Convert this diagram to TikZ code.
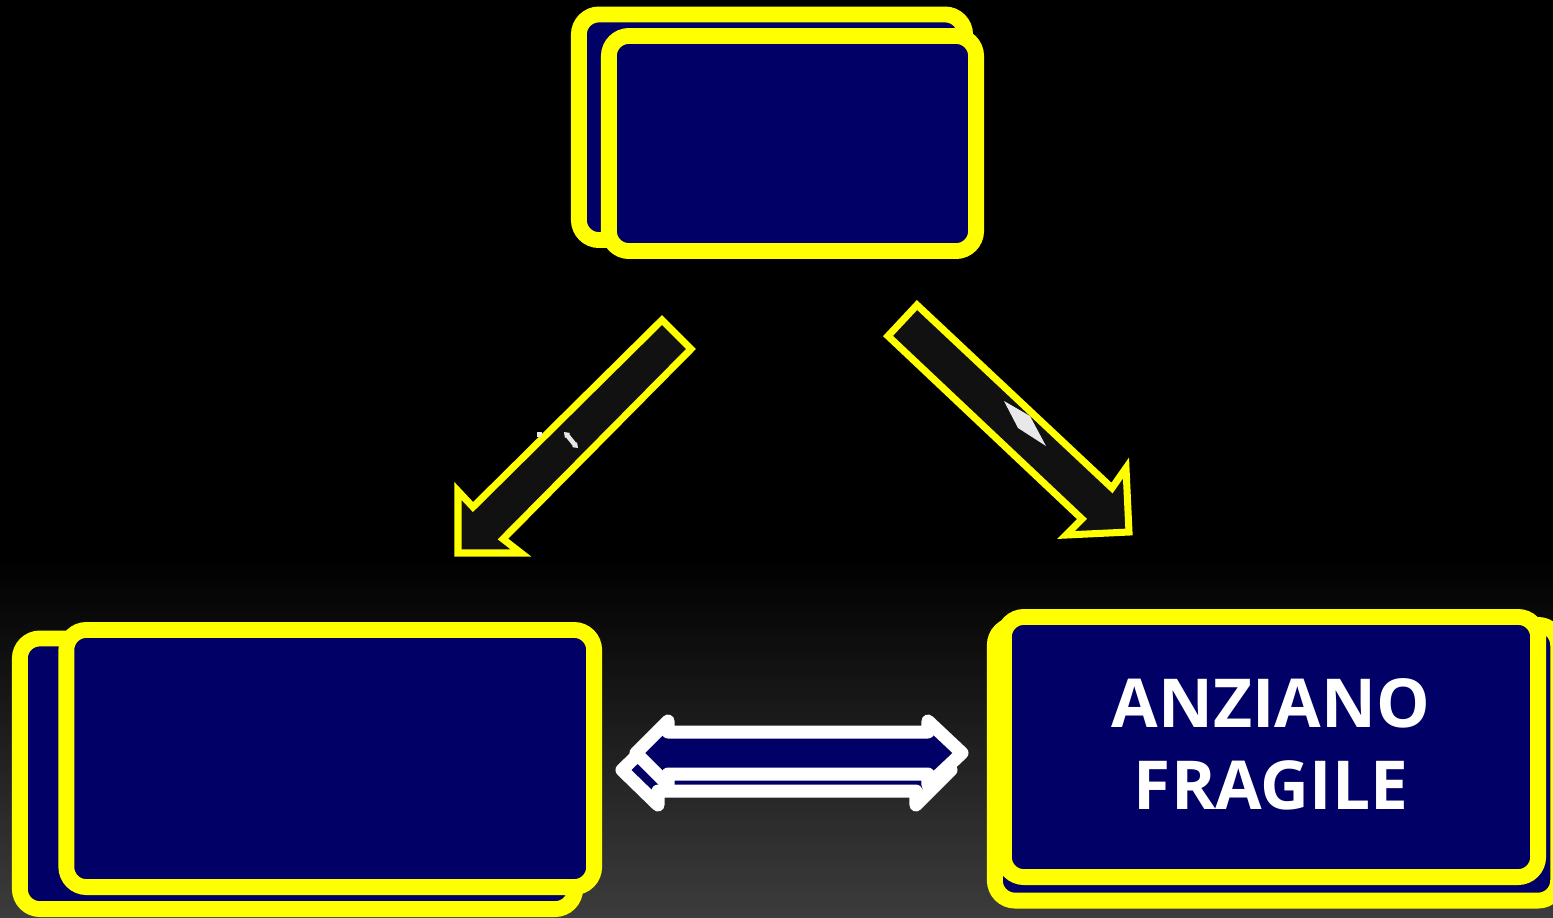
\documentclass[tikz,border=0pt]{standalone}
\usepackage{fontspec}
\setmainfont{Open Sans}
\definecolor{navy}{RGB}{0,0,102}
\definecolor{ylw}{RGB}{255,255,0}
\definecolor{shaftfill}{RGB}{17,17,17}
\definecolor{bggray}{RGB}{60,60,60}
\definecolor{glint}{RGB}{232,232,232}
\begin{document}
\begin{tikzpicture}[x=0.01cm, y=-0.01cm,
  ybox/.style={draw=ylw, fill=navy, line width=4.5pt, rounded corners=5.7pt, inner sep=0pt},
  blockarrow/.style={draw=ylw, fill=shaftfill, line width=2pt, line join=miter},
  darrow/.style={draw=white, fill=navy, line width=3.7pt, line join=round},
  lbl/.style={text=white, font=\bfseries\fontsize{19.2}{23}\selectfont, inner sep=0pt}]
\useasboundingbox (0,0) rectangle (1553,917);
% background
\fill[black] (0,0) rectangle (1553,917);
\shade[top color=black, bottom color=bggray] (0,560) rectangle (1553,917);
% top boxes
\node[ybox, minimum width=3.86cm, minimum height=2.255cm] (topback) at (772,127.25) {};
\node[ybox, minimum width=3.67cm, minimum height=2.15cm] (topfront) at (792.5,143.5) {};
% bottom-left boxes
\node[ybox, minimum width=5.55cm, minimum height=2.705cm] (leftback) at (297.5,773.75) {};
\node[ybox, minimum width=5.275cm, minimum height=2.57cm] (leftfront) at (330.25,758.5) {};
% bottom-right boxes
\node[ybox, minimum width=5.63cm, minimum height=2.755cm] (rightback) at (1276.5,762.75) {};
\node[ybox, minimum width=5.34cm, minimum height=2.6cm] (rightfront) at (1271,747) {};
\node[lbl, anchor=base] (t1) at (1271,727) {ANZIANO};
\node[lbl, anchor=base] (t2) at (1271,809) {FRAGILE};
% left block arrow (down-left)
\draw[blockarrow] (662,320) -- (691,349) -- (503,539) -- (521,553) -- (458,553) -- (458,491) -- (473,507) -- cycle;
\fill[glint] (537,432) rectangle (542,437);
\draw[glint, line width=1.3pt, line cap=round] (567,435) -- (575,445);
\fill[glint] (564,432) -- (570,433) -- (565,438) -- cycle;
\fill[glint] (578,448) -- (572,447) -- (577,442) -- cycle;
% right block arrow (down-right)
\draw[blockarrow] (917,305) -- (888,336) -- (1082,519) -- (1066,535) -- (1129,532) -- (1126,468) -- (1112,488) -- cycle;
\fill[glint] (1004,401) -- (1030,416) -- (1046,446) -- (1018,428) -- cycle;
% double arrow (two overlapping)
\draw[darrow] (622,770) -- (658,735) -- (658,749) -- (916,749) -- (916,735) -- (951,770)
  -- (916,805) -- (916,791) -- (658,791) -- (658,805) -- cycle;
\draw[darrow] (636,753) -- (668,721) -- (668,732) -- (928,732) -- (928,721) -- (962,753)
  -- (928,785) -- (928,774) -- (668,774) -- (668,785) -- cycle;
\end{tikzpicture}
\end{document}
